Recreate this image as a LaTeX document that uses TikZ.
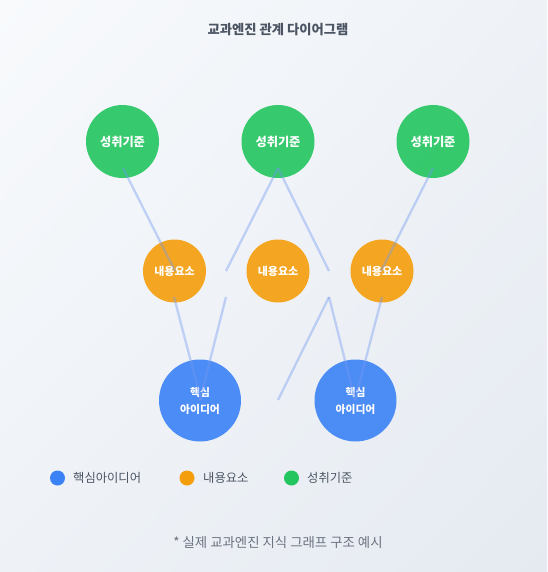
\documentclass[tikz,border=0pt]{standalone}
\usepackage{fontspec}
\usetikzlibrary{shadings}
\setmainfont{Noto Sans CJK KR}
\newfontfamily\kr{Noto Sans CJK KR}
\definecolor{bgA}{HTML}{F8FAFC}
\definecolor{bgB}{HTML}{EEF2F7}
\definecolor{bgC}{HTML}{E5EAF1}
\definecolor{cgreen}{HTML}{22C55E}
\definecolor{corange}{HTML}{F59E0B}
\definecolor{cblue}{HTML}{3B82F6}
\definecolor{cedge}{rgb}{0.45,0.6,0.95}
\definecolor{ctitle}{HTML}{4B5563}
\definecolor{cnote}{HTML}{6B7280}
\begin{document}
\begin{tikzpicture}[x=1pt,y=-1pt,
  std/.style={circle,draw=none,fill=cgreen,fill opacity=0.9,text opacity=1,minimum size=73pt,inner sep=0pt,text=white,font=\kr\bfseries\fontsize{12.2}{14}\selectfont},
  cont/.style={circle,draw=none,fill=corange,fill opacity=0.9,text opacity=1,minimum size=63pt,inner sep=0pt,text=white,font=\kr\bfseries\fontsize{11}{12}\selectfont},
  core/.style={circle,draw=none,fill=cblue,fill opacity=0.9,text opacity=1,minimum size=82pt,inner sep=0pt,text=white,align=center,font=\kr\bfseries\fontsize{10.8}{17}\selectfont},
  edge/.style={draw=cedge,line width=2.3pt,opacity=0.4},
  legdot/.style={circle,inner sep=0pt,minimum size=15pt},
  legtxt/.style={anchor=west,inner sep=0pt,text=ctitle,font=\kr\fontsize{12.3}{14}\selectfont}]
\useasboundingbox (0,0) rectangle (547,572);
\shade[upper left=bgA,upper right=bgB,lower left=bgB,lower right=bgC] (0,0) rectangle (547,572);
\node[text=ctitle,font=\kr\bfseries\fontsize{13.3}{15}\selectfont] (title) at (278,29.5) {교과엔진 관계 다이어그램};
% nodes
\node[std] (g1) at (122.5,141.5) {성취기준};
\node[std] (g2) at (278,141.5) {성취기준};
\node[std] (g3) at (433,141.5) {성취기준};
\node[cont] (o1) at (174.5,271) {내용요소};
\node[cont] (o2) at (278,271) {내용요소};
\node[cont] (o3) at (382,271) {내용요소};
\node[core] (b1) at (200,400.5) {핵심\\아이디어};
\node[core] (b2) at (355.5,400.5) {핵심\\아이디어};
% edge end points
\coordinate (g1s) at (123,168);
\coordinate (g2s) at (278,168);
\coordinate (g3s) at (433,168);
\coordinate (o1t) at (175,271);
\coordinate (xat) at (226,271);
\coordinate (xbt) at (329,271);
\coordinate (o3t) at (381,271);
\coordinate (o1s) at (174,297);
\coordinate (xas) at (226,297);
\coordinate (xbs) at (329,297);
\coordinate (o3s) at (382,297);
\coordinate (b1t) at (201,400);
\coordinate (b1u) at (200,400);
\coordinate (xct) at (278,400);
\coordinate (b2t) at (355,400);
% edges
\draw[edge] (g1s) -- (o1t);
\draw[edge] (g2s) -- (xat);
\draw[edge] (g2s) -- (xbt);
\draw[edge] (g3s) -- (o3t);
\draw[edge] (o1s) -- (b1t);
\draw[edge] (xas) -- (b1u);
\draw[edge] (xbs) -- (xct);
\draw[edge] (xbs) -- (b2t);
\draw[edge] (o3s) -- (b2t);
% legend
\node[legdot,fill=cblue] (l1) at (57.5,478) {};
\node[legtxt] (l1t) at (73,478) {핵심아이디어};
\node[legdot,fill=corange] (l2) at (187,478) {};
\node[legtxt] (l2t) at (203,478) {내용요소};
\node[legdot,fill=cgreen] (l3) at (291.5,478) {};
\node[legtxt] (l3t) at (307,478) {성취기준};
\node[text=cnote,font=\kr\fontsize{13.4}{15}\selectfont] (note) at (278,542) {* 실제 교과엔진 지식 그래프 구조 예시};
\end{tikzpicture}
\end{document}
